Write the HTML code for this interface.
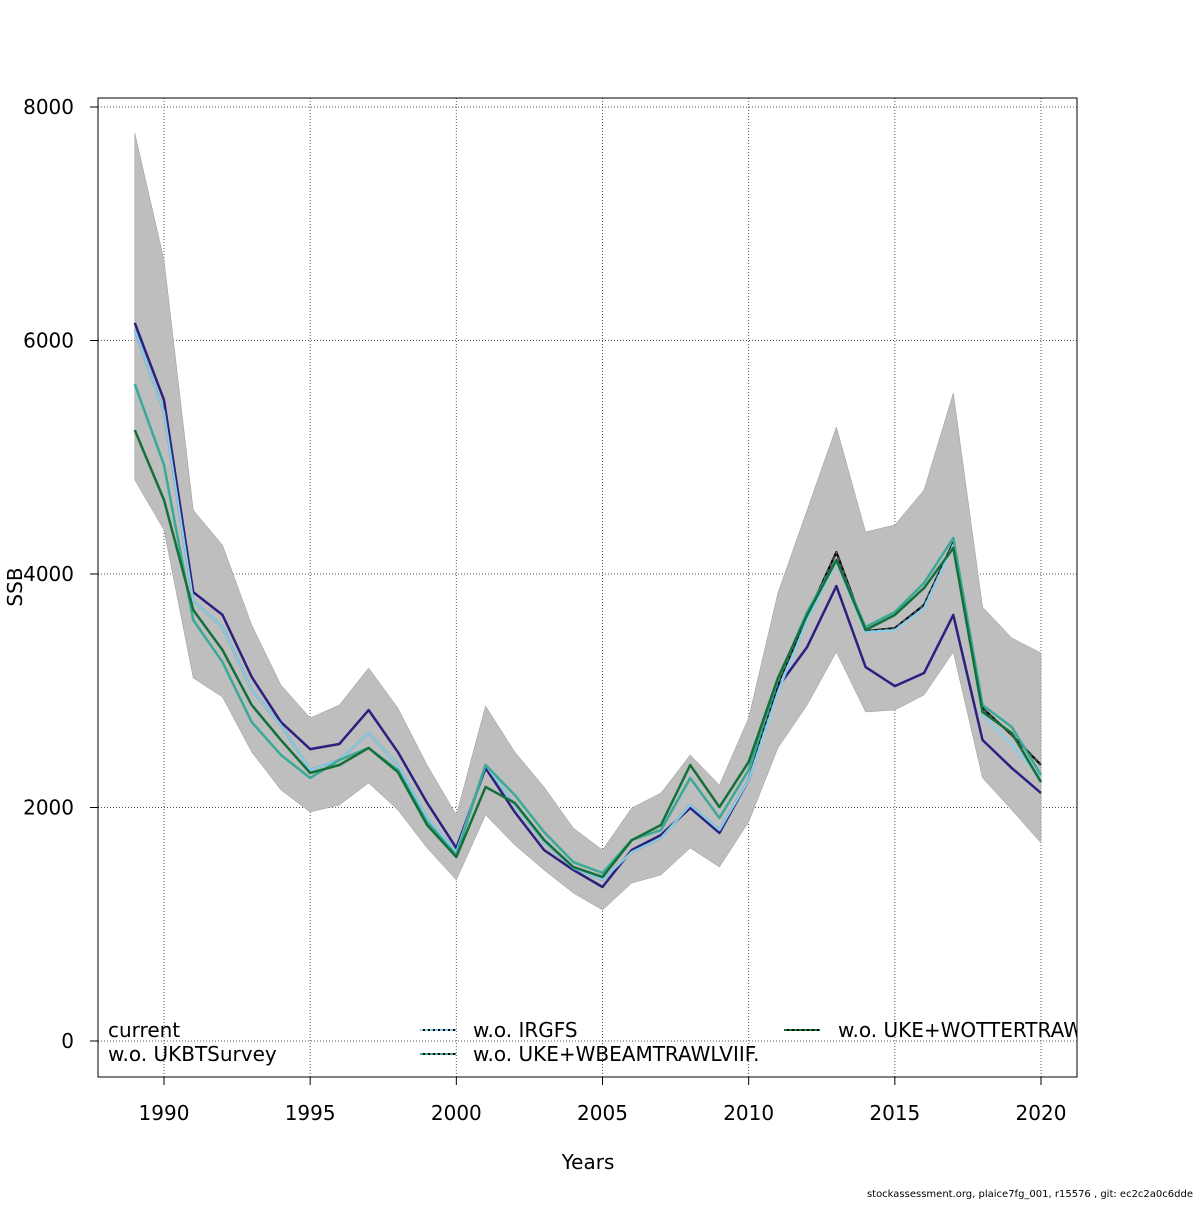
<!DOCTYPE html>
<html><head><meta charset="utf-8"><style>
body{margin:0;background:#fff}
svg text{font-family:"DejaVu Sans","Liberation Sans",sans-serif}
</style></head><body>
<svg id="c" width="1200" height="1200" viewBox="0 0 1200 1200">
<defs><clipPath id="pc"><rect x="98" y="98" width="979" height="979"/></clipPath></defs>
<g id="grid"></g><g id="band" clip-path="url(#pc)"></g><g id="lines" clip-path="url(#pc)"></g>
<rect x="98" y="98" width="979" height="979" fill="none" stroke="#000"/>
<g id="axes"></g>
<g id="legend" clip-path="url(#pc)">
<text x="108" y="1037" font-size="20">current</text>
<text x="108" y="1061" font-size="20">w.o. UKBTSurvey</text>
<line x1="420" y1="1030" x2="456" y2="1030" stroke="#000" stroke-width="2"/>
<line x1="420" y1="1030" x2="456" y2="1030" stroke="#87ceeb" stroke-width="2" stroke-dasharray="3,2"/>
<text x="473" y="1037" font-size="20">w.o. IRGFS</text>
<line x1="420" y1="1054" x2="456" y2="1054" stroke="#000" stroke-width="2"/>
<line x1="420" y1="1054" x2="456" y2="1054" stroke="#3aa996" stroke-width="2" stroke-dasharray="3,2"/>
<text x="473" y="1061" font-size="20">w.o. UKE+WBEAMTRAWLVIIF.</text>
<line x1="784" y1="1030" x2="820" y2="1030" stroke="#000" stroke-width="2"/>
<line x1="784" y1="1030" x2="820" y2="1030" stroke="#13703a" stroke-width="2" stroke-dasharray="3,2"/>
<text x="838" y="1037" font-size="20">w.o. UKE+WOTTERTRAWL</text>
</g>
<text x="588" y="1169" font-size="20" text-anchor="middle">Years</text>
<text transform="translate(22,587) rotate(-90)" font-size="20" text-anchor="middle">SSB</text>
<text x="1193" y="1197" font-size="10" text-anchor="end">stockassessment.org, plaice7fg_001, r15576 , git: ec2c2a0c6dde</text>
</svg>
<script>
const years=[1989,1990,1991,1992,1993,1994,1995,1996,1997,1998,1999,2000,2001,2002,2003,2004,2005,2006,2007,2008,2009,2010,2011,2012,2013,2014,2015,2016,2017,2018,2019,2020];
const upper=[7777,6690,4548,4248,3563,3049,2767,2878,3195,2852,2364,1936,2869,2475,2176,1824,1636,1996,2124,2450,2193,2767,3837,4548,5259,4360,4420,4720,5550,3717,3452,3323];
const lower=[4805,4377,3109,2946,2475,2150,1961,2021,2210,1979,1653,1379,1936,1679,1465,1268,1122,1353,1422,1653,1490,1876,2510,2878,3332,2818,2835,2964,3332,2253,1979,1696];
const current=[6150,5490,3845,3650,3118,2732,2500,2544,2835,2475,2040,1653,2338,1960,1636,1465,1319,1636,1765,1996,1782,2236,3032,3375,3897,3203,3040,3152,3649,2578,2338,2124];
const ukbt=[6090,5388,3769,3546,3006,2707,2321,2407,2638,2364,1910,1619,2364,2021,1704,1482,1379,1619,1739,2021,1807,2236,3060,3640,4188,3510,3537,3735,4270,2852,2621,2364];
const irgfs=[6090,5388,3769,3546,3006,2707,2321,2407,2638,2364,1910,1619,2364,2021,1704,1482,1379,1619,1739,2021,1807,2236,2989,3606,4103,3503,3520,3709,4248,2792,2535,2253];
const beam=[5627,4934,3606,3246,2732,2450,2253,2407,2510,2321,1876,1593,2364,2107,1790,1533,1439,1722,1807,2253,1910,2321,3092,3674,4120,3546,3674,3923,4308,2878,2690,2278];
const otter=[5233,4634,3692,3349,2878,2578,2296,2364,2510,2304,1850,1576,2176,2039,1722,1490,1405,1720,1850,2364,2004,2390,3109,3649,4120,3520,3649,3880,4223,2818,2638,2218];
const xTicks=[1990,1995,2000,2005,2010,2015,2020];
const yTicks=[0,2000,4000,6000,8000];
const X=y=>164+(y-1990)*(1041-164)/30;
const Y=v=>1041-v*(1041-107)/8000;
const NS='http://www.w3.org/2000/svg';
function mk(t,a,p){const e=document.createElementNS(NS,t);for(const k in a)e.setAttribute(k,a[k]);p.appendChild(e);return e;}
const grid=document.getElementById('grid'),axes=document.getElementById('axes');
xTicks.forEach(t=>{const l=mk('line',{x1:X(t),x2:X(t),y1:98,y2:1077,stroke:'#555','stroke-dasharray':'1,2'},grid);


mk('line',{x1:X(t),x2:X(t),y1:1077,y2:1085,stroke:'#000'},axes);
const tx=mk('text',{x:X(t),y:1120,'font-size':20,'text-anchor':'middle'},axes);tx.textContent=t;

});
yTicks.forEach(t=>{const l=mk('line',{x1:98,x2:1077,y1:Y(t),y2:Y(t),stroke:'#555','stroke-dasharray':'1,2'},grid);


mk('line',{x1:90,x2:98,y1:Y(t),y2:Y(t),stroke:'#000'},axes);
const tx=mk('text',{x:74,y:Y(t)+7,'font-size':20,'text-anchor':'end'},axes);tx.textContent=t;

});
let d=years.map((y,i)=>(i?'L':'M')+X(y)+','+Y(upper[i])).join('')+years.slice().reverse().map((y,j)=>'L'+X(y)+','+Y(lower[years.length-1-j])).join('')+'Z';
const b=mk('path',{d:d,fill:'#bebebe',stroke:'#999','stroke-width':0.5},document.getElementById('band'));


const L=document.getElementById('lines');
function line(vals,col,w,dash,name){const p=mk('path',{d:years.map((y,i)=>(i?'L':'M')+X(y)+','+Y(vals[i])).join(''),fill:'none',stroke:col,'stroke-width':w,'stroke-linejoin':'round'},L);if(dash)p.setAttribute('stroke-dasharray',dash);

}
line(current,'#2c1f80',2.5,null,'line-current');
line(ukbt,'#000',2.2,null,'line-ukbtsurvey-base');
line(ukbt,'#555',1.3,'4,3','line-ukbtsurvey');
line(irgfs,'#87ceeb',2.2,null,'line-irgfs');
line(beam,'#3aa996',2.5,null,'line-beamtrawl');
line(otter,'#13703a',2.5,null,'line-ottertrawl');
</script>
</body></html>
